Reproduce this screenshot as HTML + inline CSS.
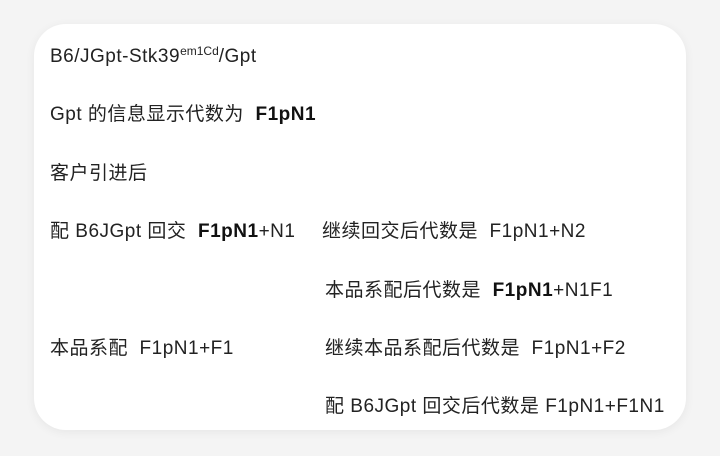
<!DOCTYPE html>
<html><head><meta charset="utf-8"><style>
html,body{margin:0;padding:0;}
body{width:720px;height:456px;background:#f4f4f4;position:relative;overflow:hidden;font-family:"Liberation Sans","Noto Sans CJK SC",sans-serif;color:#222;}
.card{position:absolute;left:34px;top:24px;width:652px;height:406px;background:#fff;border-radius:32px;box-shadow:0 2px 10px rgba(0,0,0,0.06);}
.t{position:absolute;font-size:19px;line-height:22px;white-space:nowrap;letter-spacing:0.5px;}
b{font-weight:bold;color:#111;}
sup{font-size:12px;vertical-align:7px;line-height:0;letter-spacing:0;}
</style></head><body>
<div class="card"></div>
<div class="t" style="left:50px;top:46px">B6/JGpt-Stk39<sup>em1Cd</sup>/Gpt</div>
<div class="t" style="left:50px;top:104px">Gpt 的信息显示代数为&nbsp; <b>F1pN1</b></div>
<div class="t" style="left:50px;top:163px">客户引进后</div>
<div class="t" style="left:50px;top:221px">配 B6JGpt 回交&nbsp; <b>F1pN1</b>+N1</div>
<div class="t" style="left:322px;top:221px">继续回交后代数是&nbsp; F1pN1+N2</div>
<div class="t" style="left:325px;top:280px">本品系配后代数是&nbsp; <b>F1pN1</b>+N1F1</div>
<div class="t" style="left:50px;top:338px">本品系配&nbsp; F1pN1+F1</div>
<div class="t" style="left:325px;top:338px">继续本品系配后代数是&nbsp; F1pN1+F2</div>
<div class="t" style="left:325px;top:396px">配 B6JGpt 回交后代数是 F1pN1+F1N1</div>
</body></html>
